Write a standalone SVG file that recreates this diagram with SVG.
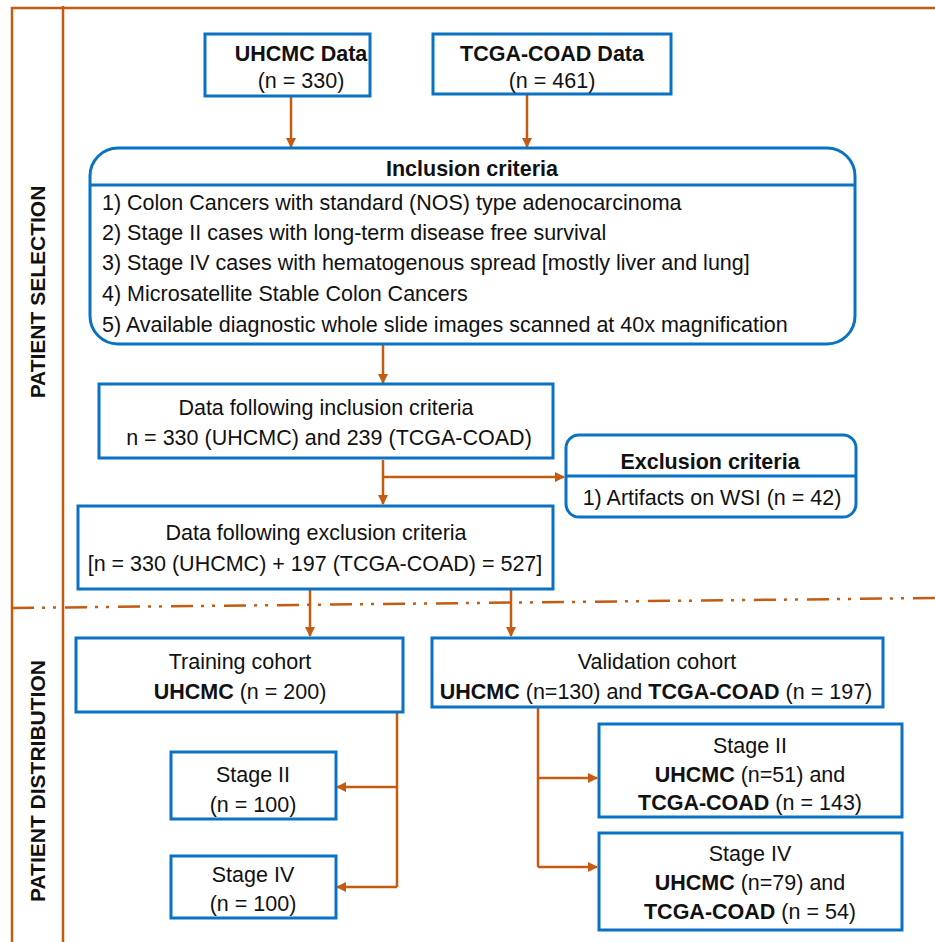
<svg xmlns="http://www.w3.org/2000/svg" width="935" height="942" viewBox="0 0 935 942">
<style>
.box{fill:#fff;stroke:#0a72c2;stroke-width:3}
.frame{fill:none;stroke:#c55a11;stroke-width:2.5}
.con{fill:none;stroke:#c55a11;stroke-width:2.5}
text{font-family:"Liberation Sans",Arial,sans-serif;font-size:21.5px;fill:#111}
.c{text-anchor:middle}
.b{font-weight:bold}
.side{font-weight:bold;font-size:21px;text-anchor:middle}
</style>
<defs>
<marker id="ah" viewBox="0 0 10 10" refX="9" refY="5" markerWidth="10" markerHeight="10" markerUnits="userSpaceOnUse" orient="auto">
<path d="M0,0 L10,5 L0,10 Z" fill="#c55a11"/>
</marker>
</defs>
<rect width="935" height="942" fill="#fff"/>
<g id="frame">
<path class="frame" d="M12,942 V8 H935"/>
<path class="frame" d="M63,6 V942"/>
<path class="frame" d="M12,608 L935,598" stroke-dasharray="22 8 3 8 3 9" stroke-width="3"/>
<text class="side" transform="translate(45,292) rotate(-90)">PATIENT SELECTION</text>
<text class="side" transform="translate(45,781) rotate(-90)">PATIENT DISTRIBUTION</text>
</g>
<g id="connectors">
<path class="con" d="M291,97 V147" marker-end="url(#ah)"/>
<path class="con" d="M527,94 V147" marker-end="url(#ah)"/>
<path class="con" d="M383,344 V383" marker-end="url(#ah)"/>
<path class="con" d="M383,460 V504" marker-end="url(#ah)"/>
<path class="con" d="M383,477 H564" marker-end="url(#ah)"/>
<path class="con" d="M310,589 V636" marker-end="url(#ah)"/>
<path class="con" d="M511,589 V636" marker-end="url(#ah)"/>
<path class="con" d="M397,712 V887"/>
<path class="con" d="M397,787 H337" marker-end="url(#ah)"/>
<path class="con" d="M397,887 H337" marker-end="url(#ah)"/>
<path class="con" d="M538,707 V867"/>
<path class="con" d="M538,778 H597" marker-end="url(#ah)"/>
<path class="con" d="M538,867 H597" marker-end="url(#ah)"/>
</g>
<g id="uhcmc">
<rect class="box" x="205" y="34" width="165" height="62"/>
<text class="c b" x="301" y="61">UHCMC Data</text>
<text class="c" x="301" y="88">(n = 330)</text>
</g>
<g id="tcga">
<rect class="box" x="433" y="34" width="238" height="60"/>
<text class="c b" x="552" y="61">TCGA-COAD Data</text>
<text class="c" x="552" y="88">(n = 461)</text>
</g>
<g id="inclusion">
<rect class="box" x="90" y="148" width="765" height="196" rx="28" ry="28"/>
<line x1="90" y1="185" x2="855" y2="185" stroke="#0a72c2" stroke-width="3"/>
<text class="c b" x="472" y="176">Inclusion criteria</text>
<text x="102" y="210">1) Colon Cancers with standard (NOS) type adenocarcinoma</text>
<text x="102" y="240">2) Stage II cases with long-term disease free survival</text>
<text x="102" y="270">3) Stage IV cases with hematogenous spread [mostly liver and lung]</text>
<text x="102" y="301">4) Microsatellite Stable Colon Cancers</text>
<text x="102" y="332">5) Available diagnostic whole slide images scanned at 40x magnification</text>
</g>
<g id="data-inclusion">
<rect class="box" x="99" y="384" width="454" height="74"/>
<text class="c" x="326" y="415">Data following inclusion criteria</text>
<text class="c" x="329" y="445">n = 330 (UHCMC) and 239 (TCGA-COAD)</text>
</g>
<g id="exclusion">
<rect class="box" x="566" y="435" width="290" height="82" rx="13" ry="13"/>
<line x1="566" y1="476" x2="856" y2="476" stroke="#0a72c2" stroke-width="3"/>
<text class="c b" x="710" y="469">Exclusion criteria</text>
<text class="c" x="712" y="505">1) Artifacts on WSI (n = 42)</text>
</g>
<g id="data-exclusion">
<rect class="box" x="78" y="506" width="475" height="83"/>
<text class="c" x="316" y="540">Data following exclusion criteria</text>
<text class="c" x="315" y="571">[n = 330 (UHCMC) + 197 (TCGA-COAD) = 527]</text>
</g>
<g id="training">
<rect class="box" x="76" y="638" width="327" height="74"/>
<text class="c" x="240" y="669">Training cohort</text>
<text class="c" x="240" y="699"><tspan class="b">UHCMC</tspan> (n = 200)</text>
</g>
<g id="validation">
<rect class="box" x="432" y="638" width="451" height="69"/>
<text class="c" x="657" y="669">Validation cohort</text>
<text class="c" x="656" y="699"><tspan class="b">UHCMC</tspan> (n=130) and <tspan class="b">TCGA-COAD</tspan> (n = 197)</text>
</g>
<g id="train-stage2">
<rect class="box" x="171" y="752" width="165" height="67"/>
<text class="c" x="253" y="782">Stage II</text>
<text class="c" x="253" y="812">(n = 100)</text>
</g>
<g id="train-stage4">
<rect class="box" x="171" y="856" width="165" height="62"/>
<text class="c" x="253" y="882">Stage IV</text>
<text class="c" x="253" y="911">(n = 100)</text>
</g>
<g id="val-stage2">
<rect class="box" x="599" y="724" width="303" height="93"/>
<text class="c" x="750" y="753">Stage II</text>
<text class="c" x="750" y="782"><tspan class="b">UHCMC</tspan> (n=51) and</text>
<text class="c" x="750" y="810"><tspan class="b">TCGA-COAD</tspan> (n = 143)</text>
</g>
<g id="val-stage4">
<rect class="box" x="599" y="833" width="303" height="97"/>
<text class="c" x="750" y="861">Stage IV</text>
<text class="c" x="750" y="890"><tspan class="b">UHCMC</tspan> (n=79) and</text>
<text class="c" x="750" y="919"><tspan class="b">TCGA-COAD</tspan> (n = 54)</text>
</g>
</svg>
